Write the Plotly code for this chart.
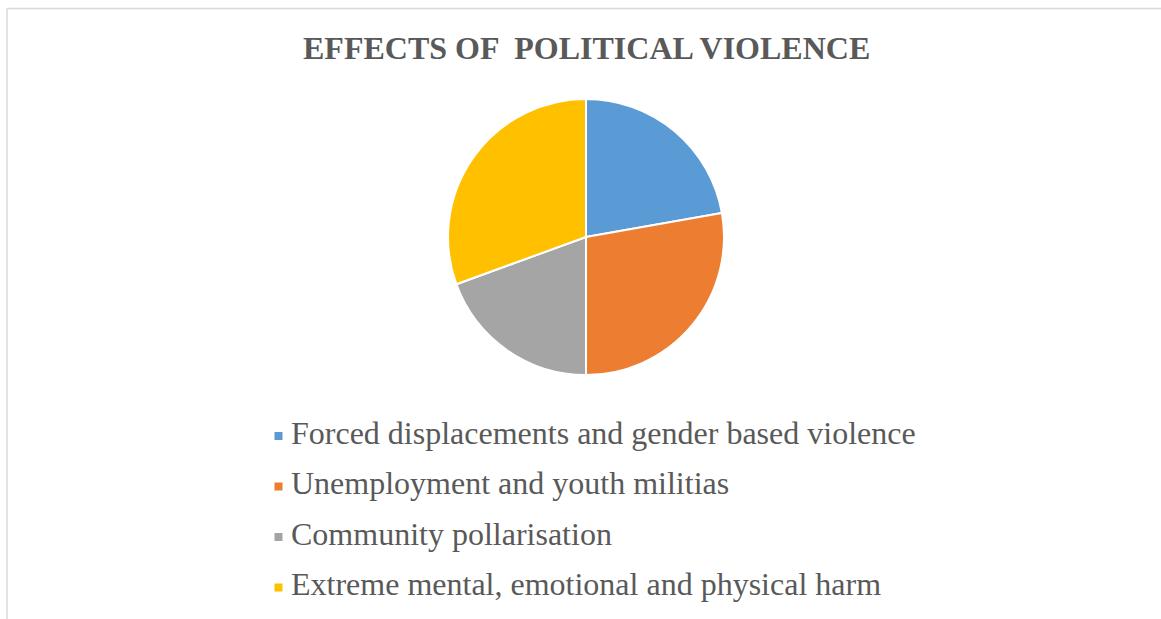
import plotly.graph_objects as go

W, H = 1161, 619

title_text = "EFFECTS OF  POLITICAL VIOLENCE"
labels = [
    "Forced displacements and gender based violence",
    "Unemployment and youth militias",
    "Community pollarisation",
    "Extreme mental, emotional and physical harm",
]
values = [8, 10, 7, 11]
colors = ["#5B9BD5", "#ED7D31", "#A5A5A5", "#FFC000"]

def px_x(x):
    return x / W

def px_y(y):
    return 1 - y / H

fig = go.Figure()
fig.add_trace(go.Pie(
    labels=labels,
    values=values,
    sort=False,
    direction="clockwise",
    rotation=0,
    textinfo="none",
    hoverinfo="label+value+percent",
    marker=dict(colors=colors, line=dict(color="white", width=2)),
    domain=dict(x=[px_x(448), px_x(724)], y=[px_y(375), px_y(99)]),
    showlegend=False,
))

annotations = [
    dict(text="<b>" + title_text + "</b>", x=px_x(586), y=px_y(48),
         xref="paper", yref="paper", xanchor="center", yanchor="middle",
         showarrow=False,
         font=dict(family="Liberation Serif", size=32, color="#595959")),
]
shapes = [
    dict(type="line", xref="paper", yref="paper",
         x0=px_x(7), x1=1, y0=px_y(8.5), y1=px_y(8.5),
         line=dict(color="#D9D9D9", width=1.5)),
    dict(type="line", xref="paper", yref="paper",
         x0=px_x(7), x1=px_x(7), y0=0, y1=px_y(8.5),
         line=dict(color="#D9D9D9", width=1.5)),
]

row_y0 = 436
row_gap = 50.5
for i, (lab, col) in enumerate(zip(labels, colors)):
    cy = row_y0 + i * row_gap
    shapes.append(dict(type="rect", xref="paper", yref="paper",
                       x0=px_x(274.5), x1=px_x(282.5),
                       y0=px_y(cy + 4), y1=px_y(cy - 4),
                       fillcolor=col, line=dict(width=0)))
    annotations.append(dict(text=lab, x=px_x(289), y=px_y(cy - 3.5),
                            xref="paper", yref="paper",
                            xanchor="left", yanchor="middle", showarrow=False,
                            font=dict(family="Liberation Serif", size=32, color="#595959")))

fig.update_layout(
    width=W, height=H,
    margin=dict(l=0, r=0, t=0, b=0),
    paper_bgcolor="white",
    plot_bgcolor="white",
    annotations=annotations,
    shapes=shapes,
    showlegend=False,
)

fig.write_html("out.html")
